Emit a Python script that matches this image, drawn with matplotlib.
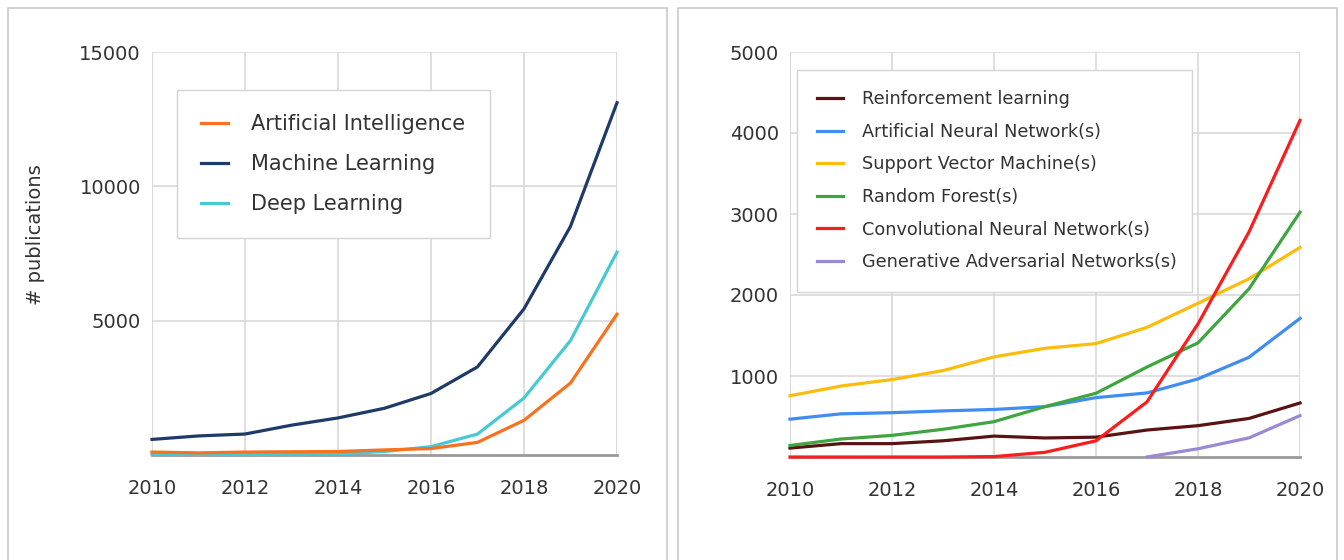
import matplotlib
matplotlib.use("Agg")
import matplotlib.pyplot as plt
from matplotlib.patches import Rectangle

# ---- data ----
jaren = [2010, 2011, 2012, 2013, 2014, 2015, 2016, 2017, 2018, 2019, 2020]

ai = [110, 80, 110, 120, 130, 190, 240, 470, 1290, 2680, 5240]
ml = [580, 710, 780, 1110, 1380, 1740, 2290, 3280, 5440, 8510, 13110]
dl = [30, 20, 20, 30, 40, 130, 310, 780, 2120, 4260, 7550]

rl = [110, 165, 165, 200, 258, 235, 245, 333, 387, 476, 667]
ann = [467, 533, 547, 569, 587, 622, 733, 791, 964, 1231, 1711]
svm = [756, 876, 956, 1067, 1236, 1342, 1400, 1600, 1898, 2200, 2587]
rf = [142, 222, 267, 342, 436, 622, 787, 1111, 1409, 2076, 3022]
cnn = [0, 0, 0, 0, 5, 58, 200, 680, 1644, 2778, 4156]
gan_jaren = [2017, 2018, 2019, 2020]
gan = [0, 102, 236, 511]

links_namen = ["Artificial Intelligence", "Machine Learning", "Deep Learning"]
links_kleuren = ["#f7711f", "#1d3a68", "#45c9d2"]
rechts_namen = ["Reinforcement learning", "Artificial Neural Network(s)",
                "Support Vector Machine(s)", "Random Forest(s)",
                "Convolutional Neural Network(s)", "Generative Adversarial Networks(s)"]
rechts_kleuren = ["#5a1212", "#3f8cf5", "#fcbc0c", "#3ea540", "#fb1c1c", "#9b88d4"]

xticks = [2010, 2012, 2014, 2016, 2018, 2020]
links_yticks = [5000, 10000, 15000]
rechts_yticks = [1000, 2000, 3000, 4000, 5000]

plt.rcParams['font.family'] = ['DejaVu Sans']
tekstkleur = "#333333"

fig = plt.figure(figsize=(13.44, 5.6), dpi=100)

# grijze kaders om de twee panelen
for x0 in [8 / 1344, 678 / 1344]:
    fig.patches.append(Rectangle((x0, -0.1), 659 / 1344, 1.1 - 8 / 560,
                                 transform=fig.transFigure, fill=False,
                                 edgecolor="#c9c9c9", linewidth=1.2))

ax1 = fig.add_axes([152 / 1344, 1 - 455 / 560, 465 / 1344, 403 / 560])
ax2 = fig.add_axes([790 / 1344, 1 - 457 / 560, 510 / 1344, 405 / 560])


def opmaak(ax, ymax, yticks):
    ax.set_xlim(2010, 2020)
    ax.set_ylim(0, ymax)
    ax.set_xticks(xticks)
    ax.set_yticks(yticks)
    ax.grid(True, color="#d9d9d9", linewidth=1.2)
    ax.set_axisbelow(True)
    for s in ["top", "right", "left"]:
        ax.spines[s].set_visible(False)
    ax.spines["bottom"].set_color("#9a9a9a")
    ax.spines["bottom"].set_linewidth(2)
    ax.spines["bottom"].set_zorder(1)
    ax.tick_params(axis="both", length=0, labelsize=14, colors=tekstkleur)
    ax.tick_params(axis="x", pad=17)
    ax.tick_params(axis="y", pad=8)
    ax.axvline(2010, color="#d9d9d9", linewidth=1.2, zorder=0)
    ax.axvline(2020, color="#d9d9d9", linewidth=1.2, zorder=0)


opmaak(ax1, 15000, links_yticks)
opmaak(ax2, 5000, rechts_yticks)

# oranje bovenop cyaan tekenen, legenda in de originele volgorde
lijnen = {}
for reeks, naam, kleur in reversed(list(zip([ai, ml, dl], links_namen, links_kleuren))):
    lijnen[naam], = ax1.plot(jaren, reeks, color=kleur, linewidth=2.3,
                             label=naam, clip_on=False)

ax1.set_ylabel("# publications", fontsize=14, color=tekstkleur)
ax1.yaxis.set_label_coords(-0.23, 0.546)

ax1.legend([lijnen[n] for n in links_namen], links_namen,
           loc="upper left", bbox_to_anchor=(0.0538, 0.0, 0.673, 0.906),
           mode="expand", borderaxespad=0, fontsize=15, frameon=True,
           fancybox=False, edgecolor="#d4d4d4", framealpha=1,
           handlelength=1.3, handletextpad=1.1, labelspacing=0.97,
           borderpad=1.15, labelcolor=tekstkleur)

rechts_reeksen = [rl, ann, svm, rf, cnn]
for reeks, naam, kleur in zip(rechts_reeksen, rechts_namen[:5], rechts_kleuren[:5]):
    ax2.plot(jaren, reeks, color=kleur, linewidth=2.3, label=naam, clip_on=False)
ax2.plot(gan_jaren, gan, color=rechts_kleuren[5], linewidth=2.3,
         label=rechts_namen[5], clip_on=False)

ax2.legend(loc="upper left", bbox_to_anchor=(0.0137, 0.0, 0.775, 0.956),
           mode="expand", borderaxespad=0, fontsize=12.7, frameon=True,
           fancybox=False, edgecolor="#d4d4d4", framealpha=1,
           handlelength=1.45, handletextpad=1.1, labelspacing=0.83,
           borderpad=1.15, labelcolor=tekstkleur)

fig.savefig("out.png", dpi=100)
